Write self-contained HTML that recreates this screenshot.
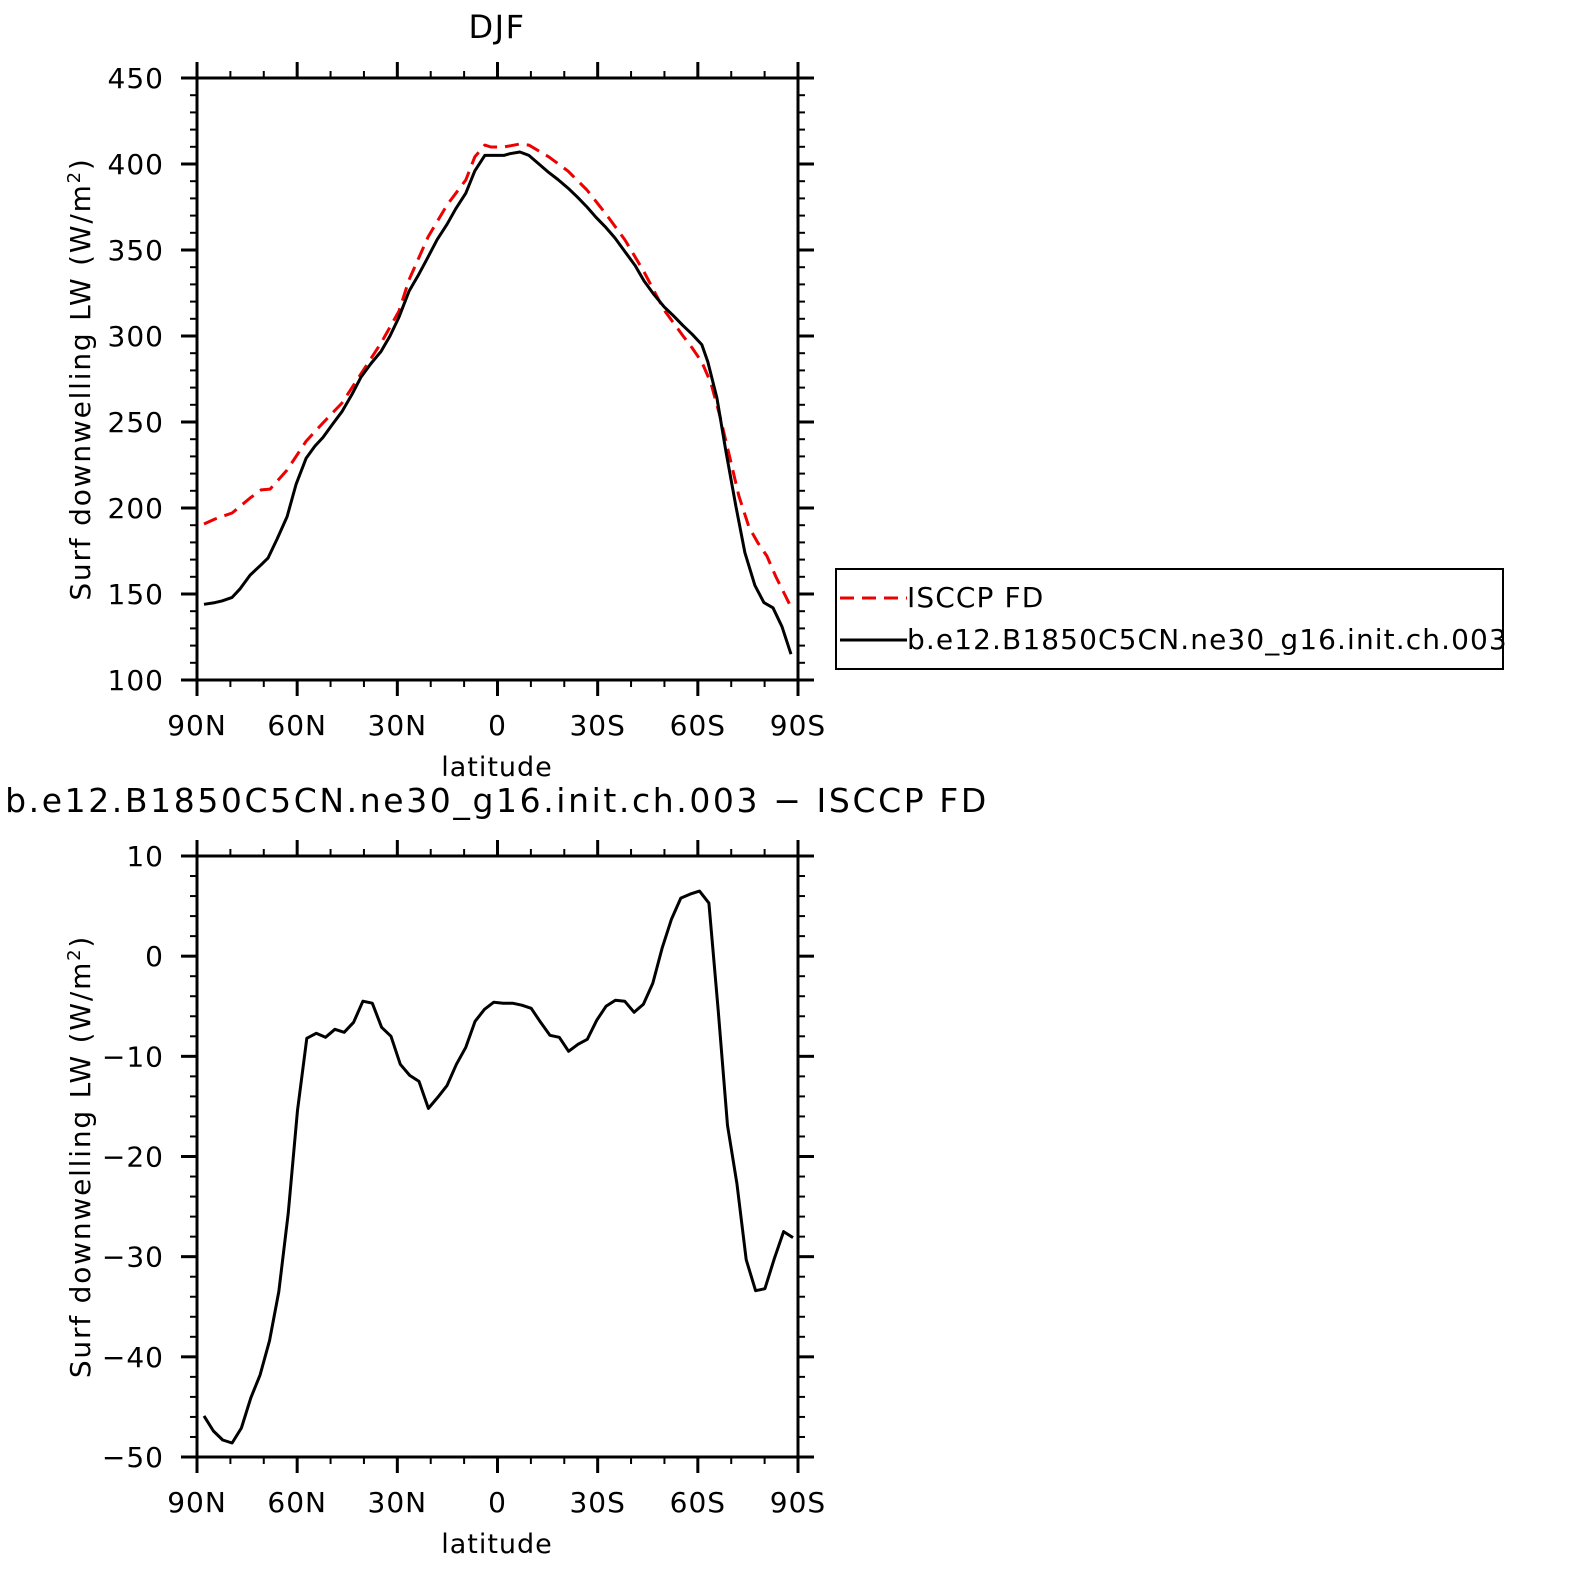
<!DOCTYPE html>
<html><head><meta charset="utf-8"><style>
body{margin:0;background:#fff;}
svg{display:block;font-family:"DejaVu Sans","Liberation Sans",sans-serif;}
</style></head><body>
<svg id="chart" width="1572" height="1569" xmlns="http://www.w3.org/2000/svg"></svg>
<script>
const latTopModel=[87.9,84.6,82.5,79.5,77.1,74.1,70.8,68.7,66.0,63.0,60.3,57.3,54.7,52.3,49.3,46.6,43.6,40.9,37.9,34.9,32.2,29.5,26.5,23.8,20.8,18.1,15.1,12.5,9.5,6.8,3.8,2.0,-1.9,-3.7,-6.7,-9.4,-12.4,-15.4,-18.1,-21.1,-23.8,-26.8,-29.5,-32.5,-35.2,-38.2,-41.2,-43.9,-46.9,-49.9,-52.6,-55.6,-58.3,-61.2,-63.0,-65.7,-68.4,-71.4,-74.1,-77.1,-79.8,-82.5,-85.2,-87.9];
const modelValues=[144,145,146,148,153,161,167,171,182,195,214,229,236,241,249,256,266,276,284,291,300,311,326,335,346,356,365,374,383,396,405,405,405,406,407,405,400,395,391,386,381,375,369,363,357,349,341,332,324,317,312,306,301,295,285,264,233,201,174,155,145,142,131,115];
const latObs=[87.9,84.6,79.5,74.1,70.8,68.1,63.0,57.3,52.3,46.6,40.9,34.9,29.5,26.5,20.8,15.1,9.5,6.8,3.8,2.0,-1.9,-6.7,-9.4,-15.4,-21.1,-26.8,-32.5,-38.2,-43.9,-49.9,-55.6,-58.3,-61.2,-63.9,-66.6,-69.6,-72.3,-75.3,-78.0,-80.7,-83.4,-86.1,-87.9];
const obsValues=[190.7,193.6,197.1,205.8,210.5,211.0,222.1,238.9,249.4,261.0,277.9,295.9,314.5,332.6,357.6,376.2,390.7,404.1,411.0,409.9,409.9,411.6,411.0,404.1,395.9,384.9,370.9,355.8,337.2,315.1,300.0,293.0,284.9,272.7,253.5,229.1,207.0,189.0,179.7,172.1,159.9,149.4,142.4];
const latDiff=[87.9,85.1,82.3,79.5,76.7,73.9,71.1,68.3,65.5,62.7,59.9,57.1,54.3,51.5,48.7,45.9,43.1,40.3,37.5,34.7,31.9,29.1,26.3,23.5,20.7,17.9,15.1,12.3,9.5,6.7,3.9,1.1,-1.7,-4.5,-7.3,-10.1,-12.9,-15.7,-18.5,-21.3,-24.1,-26.9,-29.7,-32.5,-35.3,-38.1,-40.9,-43.7,-46.5,-49.3,-52.1,-54.9,-57.7,-60.5,-63.3,-66.1,-68.9,-71.7,-74.5,-77.3,-80.1,-82.9,-85.7,-88.5];
const diffValues=[-45.9,-47.4,-48.3,-48.6,-47.1,-44.1,-41.8,-38.4,-33.5,-25.7,-15.4,-8.2,-7.7,-8.1,-7.3,-7.6,-6.6,-4.5,-4.7,-7.1,-8.0,-10.8,-11.9,-12.5,-15.2,-14.1,-12.9,-10.8,-9.1,-6.5,-5.3,-4.6,-4.7,-4.7,-4.9,-5.2,-6.6,-7.9,-8.1,-9.5,-8.8,-8.3,-6.4,-5.0,-4.4,-4.5,-5.6,-4.8,-2.7,0.8,3.7,5.8,6.2,6.5,5.3,-5.4,-16.9,-22.7,-30.3,-33.4,-33.2,-30.2,-27.5,-28.1];
const xTickVals=[90,60,30,0,-30,-60,-90];
const xTickLabels=["90N","60N","30N","0","30S","60S","90S"];
const yTopTicks=[100,150,200,250,300,350,400,450];
const yBotTicks=[-50,-40,-30,-20,-10,0,10];

const svg=document.getElementById('chart');
const NS='http://www.w3.org/2000/svg';
function el(tag,attrs,parent,text){const e=document.createElementNS(NS,tag);for(const k in attrs)e.setAttribute(k,attrs[k]);if(text!==undefined)e.textContent=text;(parent||svg).appendChild(e);return e;}
const L=197,R=798;
function xs(lat){return L+(90-lat)/180*(R-L);}
function makeY(top,bot,vmin,vmax){return v=>bot-(v-vmin)/(vmax-vmin)*(bot-top);}

function panel(name,top,bot,vmin,vmax,yticks,minorStep){
  const g=el('g',{});
  
  
  const ys=makeY(top,bot,vmin,vmax);
  for(let lat=90;lat>=-90;lat-=10){const x=xs(lat);const major=lat%30===0;const len=major?16:7;
    el('line',{x1:x,x2:x,y1:top,y2:top-len,stroke:'#000','stroke-width':major?3:2},g);
    el('line',{x1:x,x2:x,y1:bot,y2:bot+len,stroke:'#000','stroke-width':major?3:2},g);}
  for(let v=vmin;v<=vmax+1e-9;v+=minorStep){const y=ys(v);const major=yticks.some(t=>Math.abs(t-v)<1e-6);const len=major?16:7;
    el('line',{x1:L,x2:L-len,y1:y,y2:y,stroke:'#000','stroke-width':major?3:2},g);
    el('line',{x1:R,x2:R+len,y1:y,y2:y,stroke:'#000','stroke-width':major?3:2},g);}
  el('rect',{x:L,y:top,width:R-L,height:bot-top,fill:'none',stroke:'#000','stroke-width':3},g);
  yticks.forEach(t=>{const tx=el('text',{x:164,y:ys(t)+10,'text-anchor':'end','font-size':28,'letter-spacing':1},g,t<0?'−'+(-t):String(t));
    });
  xTickVals.forEach((v,i)=>{const tx=el('text',{x:xs(v),y:bot+55,'text-anchor':'middle','font-size':28,'letter-spacing':1},g,xTickLabels[i]);
    });
  const xt=el('text',{x:497,y:bot+96,'text-anchor':'middle','font-size':27,'letter-spacing':1},g,'latitude');
  
  const cy=(top+bot)/2;
  const yt=el('text',{x:0,y:0,transform:`translate(90,${cy}) rotate(-90)`,'text-anchor':'middle','font-size':28,'letter-spacing':1.8},g);
  
  yt.innerHTML='Surf downwelling LW (W/m<tspan dy="-10" font-size="18">2</tspan><tspan dy="10">)</tspan>';
  return ys;
}
function line(lats,vals,ys,color,dash,name){
  const d=lats.map((la,i)=>(i?'L':'M')+xs(la).toFixed(1)+','+ys(vals[i]).toFixed(1)).join(' ');
  const p=el('path',{d:d,fill:'none',stroke:color,'stroke-width':3,'stroke-linejoin':'round'});
  if(dash)p.setAttribute('stroke-dasharray',dash);
  
}
const t1=el('text',{x:497,y:38,'text-anchor':'middle','font-size':32,'letter-spacing':1.5},svg,'DJF');

const ysTop=panel('top-panel',78,680,100,450,yTopTicks,10);
line(latObs,obsValues,ysTop,'#e00','14,8','isccp-line');
line(latTopModel,modelValues,ysTop,'#000',null,'model-line');

const t2=el('text',{x:497,y:812,'text-anchor':'middle','font-size':33,'letter-spacing':2.6},svg,'b.e12.B1850C5CN.ne30_g16.init.ch.003 − ISCCP FD');

const ysBot=panel('bottom-panel',856,1457,-50,10,yBotTicks,2);
line(latDiff,diffValues,ysBot,'#000',null,'diff-line');

const lg=el('g',{});

el('rect',{x:836,y:569,width:667,height:100,fill:'#fff',stroke:'#000','stroke-width':2},lg);
const l1=el('line',{x1:840,x2:907,y1:598,y2:598,stroke:'#e00','stroke-width':3,'stroke-dasharray':'14,8'},lg);

const e1=el('text',{x:907,y:607,'font-size':28,'letter-spacing':1.1},lg,'ISCCP FD');

const l2=el('line',{x1:840,x2:907,y1:640,y2:640,stroke:'#000','stroke-width':3},lg);

const e2=el('text',{x:907,y:649,'font-size':28,'letter-spacing':1.1},lg,'b.e12.B1850C5CN.ne30_g16.init.ch.003');

</script>
</body></html>
